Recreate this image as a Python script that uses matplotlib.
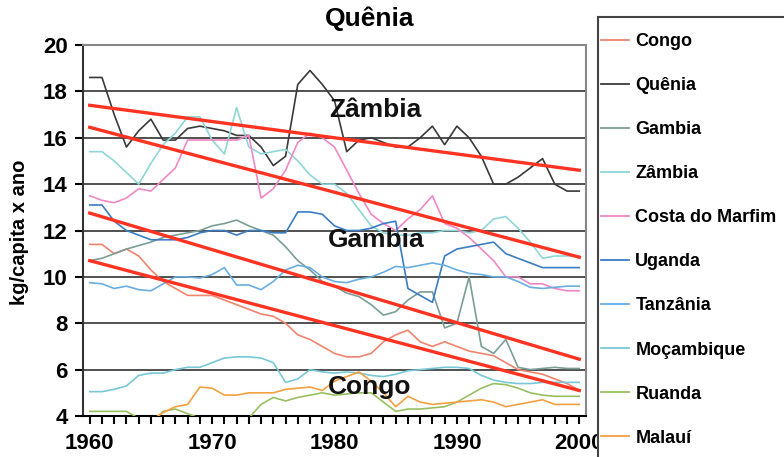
import numpy as np
import matplotlib
matplotlib.use('Agg')
import matplotlib.pyplot as plt
from matplotlib.lines import Line2D
from matplotlib.patches import Rectangle

plt.rcParams['font.family'] = ['Liberation Sans', 'DejaVu Sans']
plt.rcParams['font.weight'] = 'bold'

# years 1960 .. 2000
years = np.arange(1960, 2001)

congo = [11.4, 11.4, 11.0, 11.2, 10.9, 10.3, 9.8, 9.5, 9.2, 9.2,
         9.2, 9.0, 8.8, 8.6, 8.4, 8.3, 8.0, 7.5, 7.3, 7.0,
         6.7, 6.55, 6.55, 6.7, 7.2, 7.5, 7.7, 7.2, 7.0, 7.2,
         7.0, 6.8, 6.7, 6.6, 6.3, 6.0, 5.9, 5.8, 5.6, 5.4, 5.1]
quenia = [18.6, 18.6, 17.0, 15.6, 16.3, 16.8, 15.9, 15.9, 16.4, 16.5,
          16.4, 16.3, 16.1, 16.1, 15.6, 14.8, 15.2, 18.3, 18.9, 18.3,
          17.6, 15.4, 15.9, 16.0, 15.8, 15.6, 15.6, 16.0, 16.5, 15.7,
          16.5, 16.0, 15.2, 14.0, 14.0, 14.3, 14.7, 15.1, 14.0, 13.7, 13.7]
gambia = [10.7, 10.8, 11.0, 11.2, 11.35, 11.5, 11.7, 11.8, 11.9, 12.0,
          12.2, 12.3, 12.45, 12.2, 12.0, 11.8, 11.3, 10.7, 10.3, 9.8,
          9.6, 9.3, 9.15, 8.8, 8.35, 8.5, 9.0, 9.35, 9.35, 7.8,
          8.0, 10.0, 7.0, 6.7, 7.3, 6.1, 6.0, 6.05, 6.1, 6.05, 6.05]
zambia = [15.4, 15.4, 15.0, 14.5, 14.0, 14.9, 15.7, 16.2, 16.9, 16.9,
          15.9, 15.3, 17.3, 15.6, 15.3, 15.4, 15.5, 15.0, 14.4, 14.0,
          14.0, 13.6, 12.9, 12.2, 11.9, 11.8, 11.8, 11.9, 11.9, 12.0,
          12.0, 11.9, 12.0, 12.5, 12.6, 12.1, 11.5, 10.8, 10.9, 10.9, 10.9]
costa_marfim = [13.5, 13.3, 13.2, 13.4, 13.8, 13.7, 14.2, 14.7, 15.9, 15.9,
                15.9, 15.9, 15.9, 16.1, 13.4, 13.8, 14.6, 15.8, 16.2, 16.0,
                15.6, 14.6, 13.6, 12.7, 12.3, 12.0, 12.5, 12.9, 13.5, 12.3,
                12.1, 11.7, 11.2, 10.7, 10.0, 10.0, 9.7, 9.7, 9.5, 9.4, 9.4]
uganda = [13.1, 13.1, 12.4, 12.0, 11.8, 11.6, 11.6, 11.6, 11.7, 11.9,
          12.0, 12.0, 11.8, 12.0, 12.0, 11.9, 11.9, 12.8, 12.8, 12.7,
          12.2, 12.0, 12.0, 12.1, 12.3, 12.4, 9.5, 9.2, 8.9, 10.9,
          11.2, 11.3, 11.4, 11.5, 11.0, 10.8, 10.6, 10.4, 10.4, 10.4, 10.4]
tanzania = [9.75, 9.7, 9.5, 9.6, 9.45, 9.4, 9.7, 10.0, 10.0, 9.95,
            10.1, 10.4, 9.65, 9.65, 9.45, 9.8, 10.3, 10.5, 10.4, 10.0,
            9.8, 9.75, 9.9, 10.0, 10.2, 10.45, 10.4, 10.5, 10.6, 10.5,
            10.3, 10.15, 10.1, 10.0, 10.0, 9.8, 9.55, 9.5, 9.55, 9.6, 9.6]
mocambique = [5.05, 5.05, 5.15, 5.3, 5.75, 5.85, 5.85, 6.0, 6.1, 6.1,
              6.3, 6.5, 6.55, 6.55, 6.5, 6.3, 5.45, 5.6, 6.0, 5.9,
              5.85, 5.9, 5.85, 5.75, 5.7, 5.8, 5.95, 6.0, 6.05, 6.1,
              6.1, 6.05, 5.75, 5.55, 5.45, 5.4, 5.4, 5.45, 5.45, 5.45, 5.45]
ruanda = [4.2, 4.2, 4.2, 4.2, 3.9, 3.7, 4.2, 4.3, 4.1, 3.9,
          3.8, 3.7, 3.7, 3.9, 4.5, 4.8, 4.65, 4.8, 4.9, 5.0,
          4.9, 4.95, 5.0, 5.0, 4.6, 4.2, 4.3, 4.3, 4.35, 4.4,
          4.6, 4.9, 5.2, 5.4, 5.35, 5.2, 5.0, 4.9, 4.85, 4.85, 4.85]
malaui = [3.6, 3.5, 3.5, 3.7, 3.8, 3.8, 4.15, 4.4, 4.5, 5.25,
          5.2, 4.9, 4.9, 5.0, 5.0, 5.0, 5.15, 5.2, 5.25, 5.1,
          5.5, 5.7, 5.9, 5.5, 5.0, 4.4, 4.85, 4.6, 4.5, 4.55,
          4.6, 4.65, 4.7, 4.6, 4.4, 4.5, 4.6, 4.7, 4.5, 4.5, 4.5]

series_names = ['Congo', 'Quênia', 'Gambia', 'Zâmbia', 'Costa do Marfim',
                'Uganda', 'Tanzânia', 'Moçambique', 'Ruanda', 'Malauí']
series_values = [congo, quenia, gambia, zambia, costa_marfim,
                 uganda, tanzania, mocambique, ruanda, malaui]
series_colors = ['#f0846e', '#3a3a3a', '#7a9e96', '#8fd6d6', '#ef88c4',
                 '#3b7cc4', '#68aee0', '#78c8d8', '#98c060', '#f5a040']

# linear trend lines (start 1960, end 2000)
trend_start = [17.4, 16.45, 12.75, 10.7]
trend_end = [14.6, 10.85, 6.45, 5.1]

# in-plot labels
label_texts = ['Zâmbia', 'Gambia', 'Congo']
label_x = [1983.3, 1983.4, 1982.9]
label_y = [17.2, 11.6, 5.25]

fig = plt.figure(figsize=(7.84, 4.57), dpi=100)
ax = fig.add_axes([83 / 784, 1 - 416 / 457, (586 - 83) / 784, (416 - 45) / 457])

for name, vals, col in zip(series_names, series_values, series_colors):
    ax.plot(years, vals, color=col, lw=1.2, label=name, zorder=3)

for a, b in zip(trend_start, trend_end):
    ax.plot([1960, 2000], [a, b], color='#ff3322', lw=2.4, zorder=4)

for t, x, y in zip(label_texts, label_x, label_y):
    ax.text(x, y, t, fontsize=19, fontweight='bold', ha='center', va='center',
            color='#111111', zorder=5)

ax.set_xlim(1959.45, 2000.55)
ax.set_ylim(4, 20)
ax.set_xticks(range(1960, 2001, 10))
ax.set_xticks(range(1960, 2001), minor=True)
ax.set_yticks(range(4, 21, 2))
ax.tick_params(axis='both', which='both', direction='out', length=6, width=1.5,
               labelsize=16, color='black')
ax.tick_params(axis='x', pad=6)
ax.tick_params(axis='y', pad=5)
for lab in ax.get_xticklabels() + ax.get_yticklabels():
    lab.set_fontweight('bold')

ax.grid(axis='y', color='#505050', lw=1.4, zorder=1)
ax.set_axisbelow(True)
ax.spines['left'].set_color('#333333')
ax.spines['bottom'].set_color('black')
ax.spines['top'].set_color('#888888')
ax.spines['right'].set_color('#888888')
for sp in ax.spines.values():
    sp.set_linewidth(1.5)

fig.text(370 / 784, 1 - 19 / 457, 'Quênia', fontsize=19, fontweight='bold',
         ha='center', va='center')
fig.text(20 / 784, 1 - 232 / 457, 'kg/capita x ano', fontsize=14.5,
         fontweight='bold', rotation=90, ha='center', va='center')

# legend box (extends past the right edge)
fig.patches.append(Rectangle((598 / 784, -0.1), 0.5, 1.1 - 17 / 457,
                             transform=fig.transFigure, facecolor='white',
                             edgecolor='#444444', lw=1.5, zorder=10))
handles = [Line2D([], [], color=c, lw=1.3) for c in series_colors]
leg = fig.legend(handles, series_names, loc='upper left',
                 bbox_to_anchor=(601 / 784, 1 - 33 / 457), frameon=False,
                 fontsize=13, handlelength=1.55, handletextpad=0.35,
                 labelspacing=1.5, borderpad=0, borderaxespad=0)
leg.set_zorder(11)
for t in leg.get_texts():
    t.set_fontweight('bold')

fig.savefig('out.png', dpi=100)
